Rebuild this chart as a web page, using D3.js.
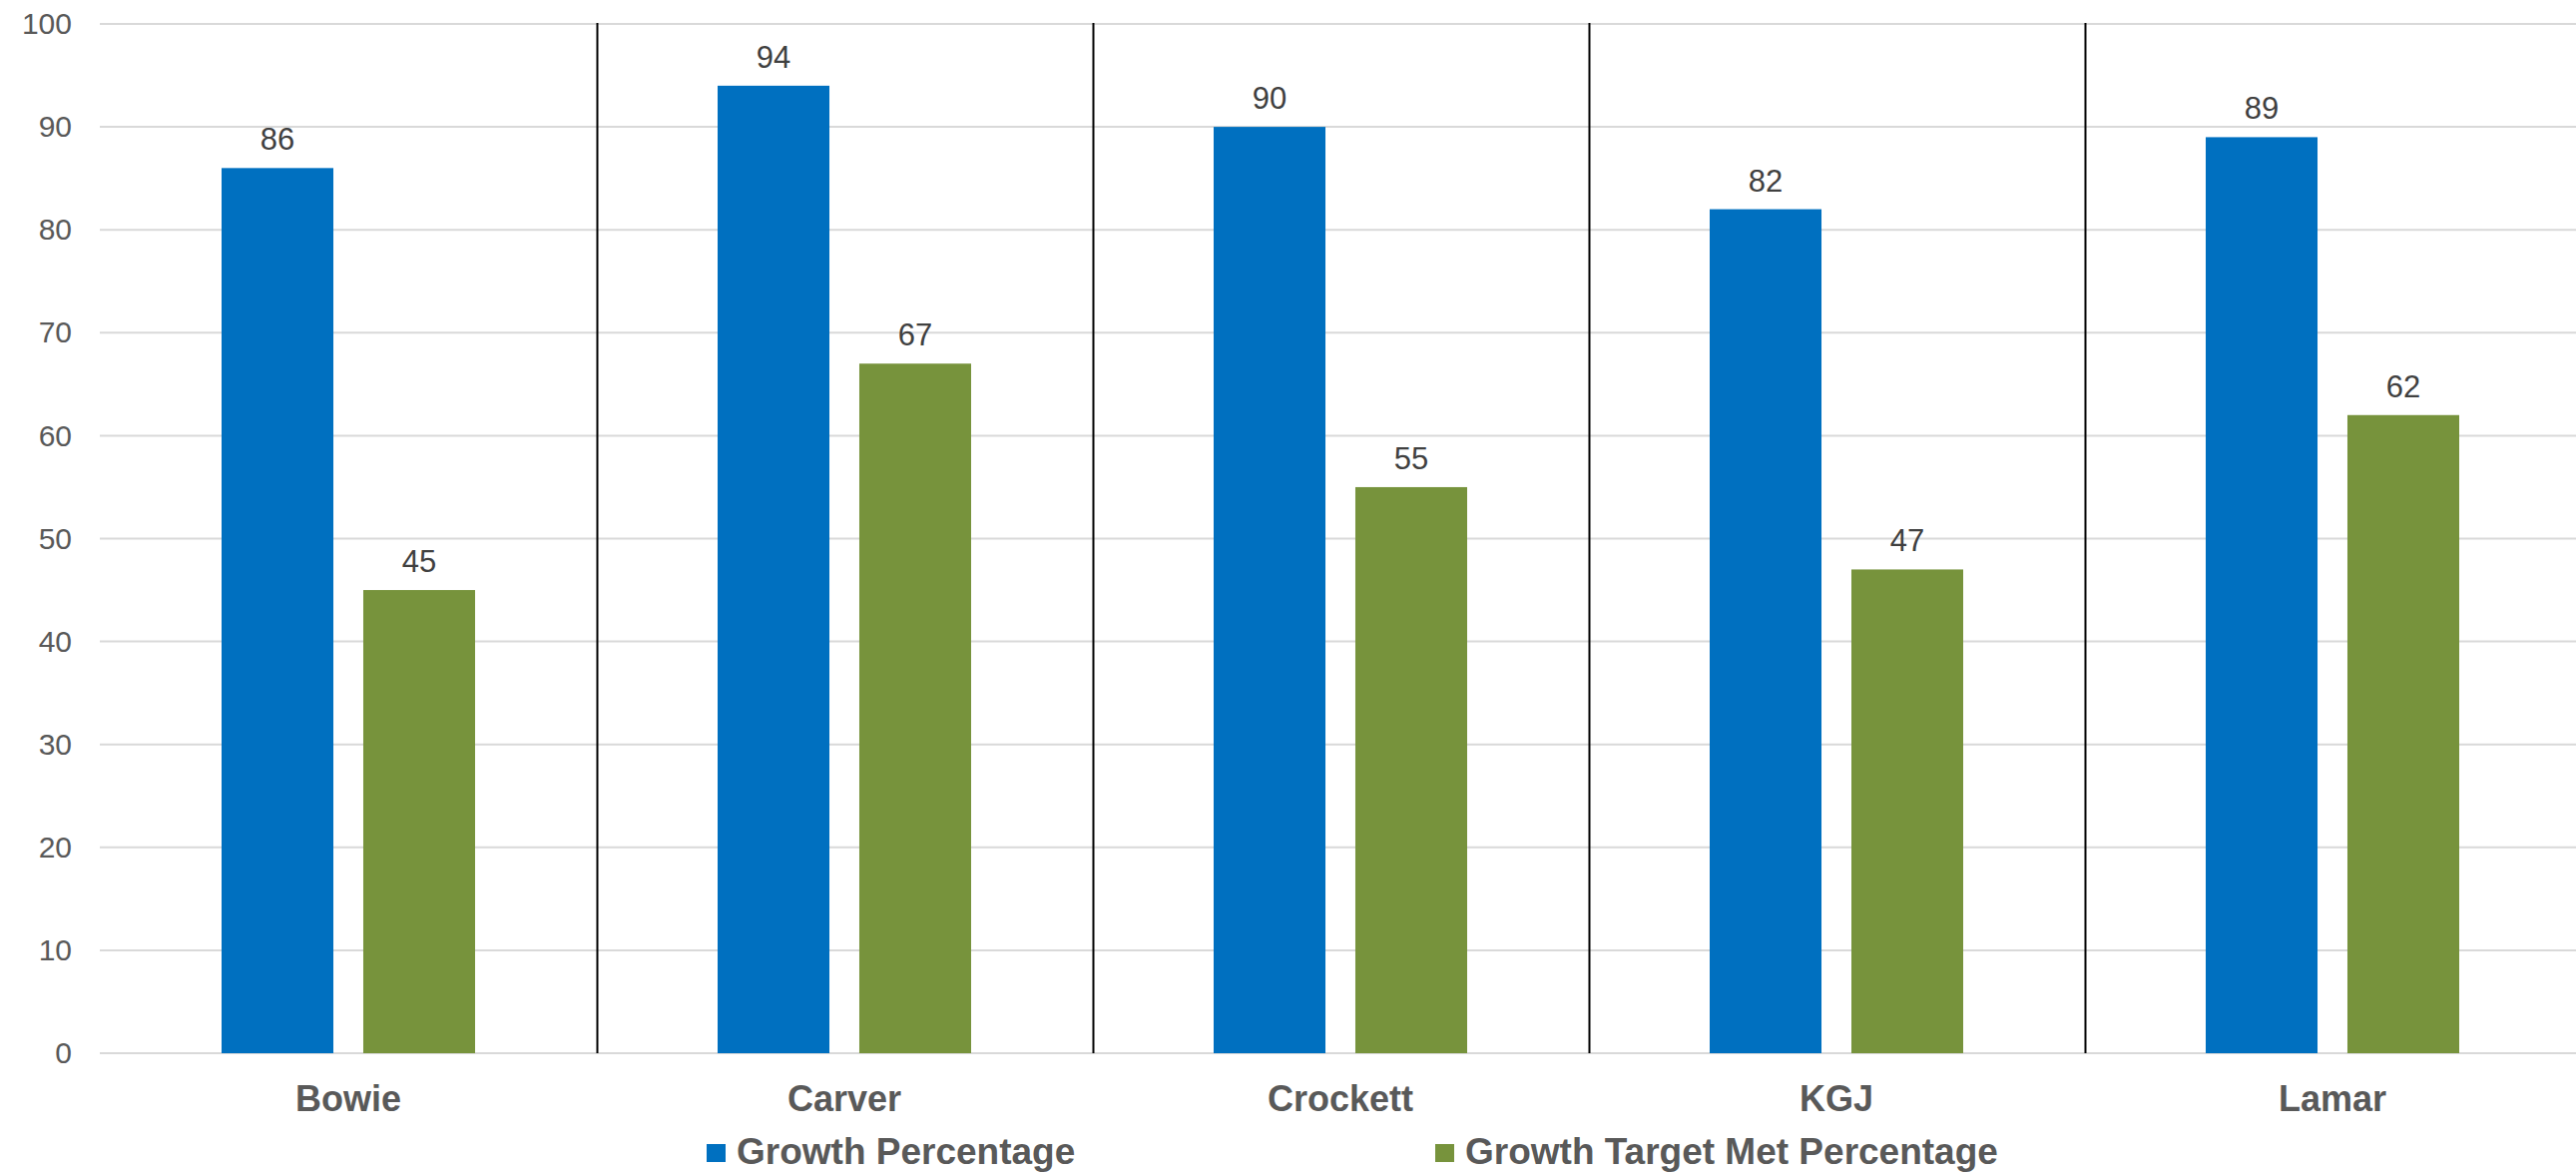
<!DOCTYPE html>
<html>
<head>
<meta charset="utf-8">
<script src="https://cdn.jsdelivr.net/npm/d3@7"></script>
<style>
  html, body { margin: 0; padding: 0; background: #fff; }
  svg { display: block; font-family: "Liberation Sans", Arial, sans-serif; }
</style>
</head>
<body>
<svg id="chart" width="2581" height="1176"></svg>
<script>
// School growth results
const schools = ["Bowie", "Carver", "Crockett", "KGJ", "Lamar"];
const seriesNames = ["Growth Percentage", "Growth Target Met Percentage"];
const growthPct = [86, 94, 90, 82, 89];
const targetMetPct = [45, 67, 55, 47, 62];
const yTicks = [0, 10, 20, 30, 40, 50, 60, 70, 80, 90, 100];
const seriesColors = ["#0070C0", "#77933C"];

(function () {
  const seriesValues = [growthPct, targetMetPct];
  const rows = schools.map((s, i) => ({
    school: s,
    values: seriesNames.map((n, k) => ({ series: n, value: seriesValues[k][i] }))
  }));

  const svg = d3.select("#chart");
  const plotLeft = 100.5, plotRight = 2585.5, plotTop = 24, plotBottom = 1055;

  const x0 = d3.scaleBand().domain(schools).range([plotLeft, plotRight]).padding(0);
  const outer = 121.5;
  const x1 = d3.scaleBand().domain(seriesNames)
    .range([outer, x0.bandwidth() - outer]).paddingInner(0.211);
  const y = d3.scaleLinear().domain([0, 100]).range([plotBottom, plotTop]);
  const color = d3.scaleOrdinal().domain(seriesNames).range(seriesColors);

  // horizontal gridlines
  svg.append("g").selectAll("line").data(yTicks).join("line")
    .attr("x1", 100).attr("x2", 2581)
    .attr("y1", d => y(d)).attr("y2", d => y(d))
    .attr("stroke", "#D9D9D9").attr("stroke-width", 2);

  // y axis labels
  const yAxis = d3.axisLeft(y).tickValues(yTicks).tickSize(0).tickPadding(28);
  const yg = svg.append("g").attr("transform", "translate(100,0)").call(yAxis);
  yg.select(".domain").remove();
  yg.selectAll("text")
    .attr("font-family", "'Liberation Sans', Arial, sans-serif")
    .attr("font-size", 30).attr("fill", "#595959");

  // category separators
  svg.append("g").selectAll("line").data(schools.slice(1)).join("line")
    .attr("x1", d => Math.round(x0(d)) + 0.5).attr("x2", d => Math.round(x0(d)) + 0.5)
    .attr("y1", y(100) - 1).attr("y2", y(0))
    .attr("stroke", "#000").attr("stroke-width", 2);

  // bars
  const groups = svg.append("g").selectAll("g").data(rows).join("g")
    .attr("transform", d => `translate(${x0(d.school)},0)`);

  groups.selectAll("rect").data(d => d.values).join("rect")
    .attr("x", d => x1(d.series))
    .attr("width", x1.bandwidth())
    .attr("y", d => y(d.value))
    .attr("height", d => y(0) - y(d.value))
    .attr("fill", d => color(d.series));

  // value labels
  groups.selectAll("text").data(d => d.values).join("text")
    .attr("x", d => x1(d.series) + x1.bandwidth() / 2)
    .attr("y", d => y(d.value) - 18)
    .attr("text-anchor", "middle")
    .attr("font-size", 31).attr("fill", "#404040")
    .text(d => d.value);

  // category axis labels
  const xAxis = d3.axisBottom(x0).tickSize(0).tickPadding(32);
  const xg = svg.append("g").attr("transform", `translate(0,${plotBottom})`).call(xAxis);
  xg.select(".domain").remove();
  xg.selectAll("text")
    .attr("font-family", "'Liberation Sans', Arial, sans-serif")
    .attr("font-size", 36).attr("font-weight", "bold").attr("fill", "#595959");

  // legend
  const legendX = [708, 1438];
  const legend = svg.append("g").selectAll("g").data(seriesNames).join("g")
    .attr("transform", (d, i) => `translate(${legendX[i]},1166)`);
  legend.append("rect")
    .attr("x", 0).attr("y", -20).attr("width", 19).attr("height", 18)
    .attr("fill", d => color(d));
  legend.append("text")
    .attr("x", 30).attr("y", 0)
    .attr("font-size", 37).attr("font-weight", "bold").attr("fill", "#595959")
    .text(d => d);
})();
</script>
</body>
</html>
